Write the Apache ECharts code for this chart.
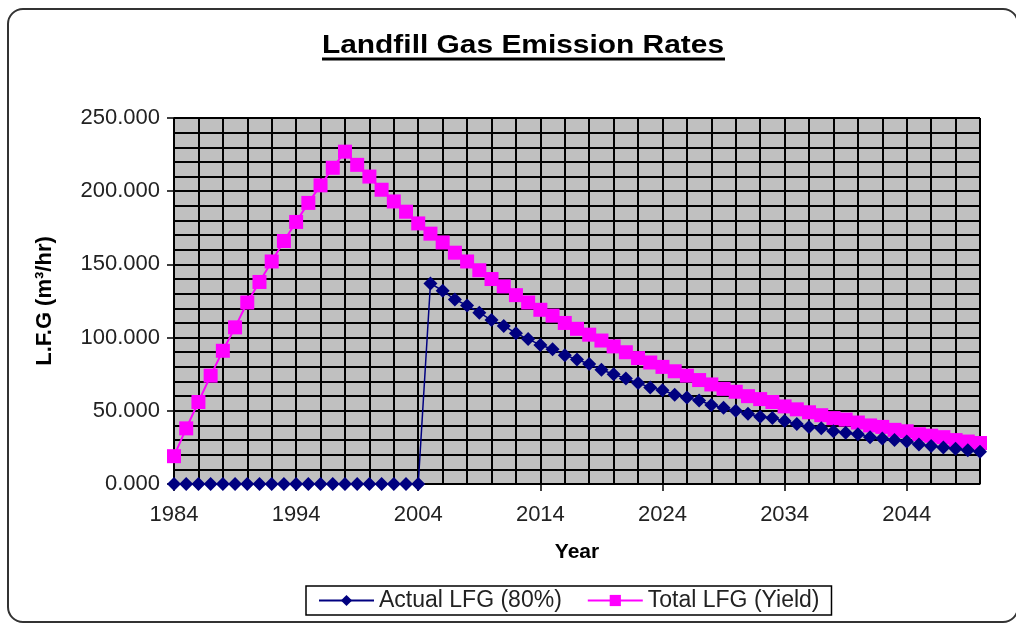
<!DOCTYPE html>
<html>
<head>
<meta charset="utf-8">
<script src="https://cdn.jsdelivr.net/npm/echarts@6/dist/echarts.min.js"></script>
<style>
  html, body { margin: 0; padding: 0; background: #fff; }
  #chart { width: 1016px; height: 624px; }
</style>
</head>
<body>
<div id="chart"></div>
<script>
const years = [
  '1984', '1985', '1986', '1987', '1988', '1989', '1990', '1991', '1992', '1993',
  '1994', '1995', '1996', '1997', '1998', '1999', '2000', '2001', '2002', '2003',
  '2004', '2005', '2006', '2007', '2008', '2009', '2010', '2011', '2012', '2013',
  '2014', '2015', '2016', '2017', '2018', '2019', '2020', '2021', '2022', '2023',
  '2024', '2025', '2026', '2027', '2028', '2029', '2030', '2031', '2032', '2033',
  '2034', '2035', '2036', '2037', '2038', '2039', '2040', '2041', '2042', '2043',
  '2044', '2045', '2046', '2047', '2048', '2049', '2050'
]

// m3/hr
const actualLFG = [
  0, 0, 0, 0, 0, 0, 0, 0, 0, 0,
  0, 0, 0, 0, 0, 0, 0, 0, 0, 0,
  0, 137, 132, 126, 122, 117, 112, 108, 103, 99,
  95, 92, 88, 85, 82, 78, 75, 72, 69, 66,
  64, 61, 59, 57, 54, 52, 50, 48, 46, 45,
  43, 41, 39, 38, 36, 35, 34, 32, 31, 30,
  29, 27, 26, 25, 24, 23, 22
]

const totalLFG = [
  19, 38, 56, 74, 91, 107, 124, 138, 152, 166,
  179, 192, 204, 216, 227, 218, 210, 201, 193, 186,
  178, 171, 165, 158, 152, 146, 140, 135, 129, 124,
  119, 115, 110, 106, 102, 98, 94, 90, 86, 83,
  80, 77, 74, 71, 68, 65, 63, 60, 58, 56,
  53, 51, 49, 47, 45, 44, 42, 40, 39, 37,
  36, 34, 33, 32, 30, 29, 28
]

const seriesNames = ['Actual LFG (80%)', 'Total LFG (Yield)']

const font = '"Liberation Sans", Arial, sans-serif'

const myChart = echarts.init(document.getElementById('chart'))

let option = {
  animation: false,
  textStyle: { fontFamily: font },
  graphic: [
    {
      type: 'rect',
      silent: true,
      z: -10,
      shape: { x: 8, y: 9, width: 1010, height: 613, r: 15 },
      style: { fill: 'none', stroke: '#333', lineWidth: 2 }
    },
    {
      type: 'text',
      x: 523,
      y: 33,
      scaleX: 1.15, // 原图文字被横向拉宽
      style: {
        text: 'Landfill Gas Emission Rates',
        font: 'bold 26px ' + font,
        fill: '#000',
        textAlign: 'center',
        textVerticalAlign: 'top'
      }
    },
    {
      type: 'line',
      shape: { x1: 322, y1: 59, x2: 725, y2: 59 },
      style: { stroke: '#000', lineWidth: 3 }
    }
  ],
  grid: {
    left: 174,
    right: 36,
    top: 118,
    bottom: 140,
    show: true,
    backgroundColor: '#C0C0C0',
    borderColor: '#000',
    borderWidth: 1
  },
  legend: {
    data: seriesNames,
    left: 306,
    top: 586,
    itemWidth: 55,
    itemHeight: 14,
    itemGap: 25,
    padding: [3, 12],
    borderColor: '#000',
    borderWidth: 1.5,
    textStyle: { fontSize: 23, color: '#222', fontFamily: font }
  },
  xAxis: {
    type: 'category',
    data: years,
    boundaryGap: false,
    name: 'Year',
    nameLocation: 'middle',
    nameGap: 58,
    nameTextStyle: { fontSize: 21, fontWeight: 'bold', color: '#000', fontFamily: font },
    axisLine: { lineStyle: { color: '#000', width: 1.5 } },
    axisTick: { interval: 9, length: 7, lineStyle: { color: '#000', width: 1.5 } },
    axisLabel: { interval: 9, margin: 20, fontSize: 22, color: '#222', fontFamily: font },
    splitLine: { show: true, interval: 1, lineStyle: { color: '#000', width: 2 } }
  },
  yAxis: {
    type: 'value',
    min: 0,
    max: 250,
    interval: 50,
    name: 'L.F.G (m³/hr)',
    nameLocation: 'middle',
    nameRotate: 90,
    nameGap: 118,
    nameTextStyle: { fontSize: 22, fontWeight: 'bold', color: '#000', fontFamily: font },
    axisLine: { show: true, lineStyle: { color: '#000', width: 1.5 } },
    axisTick: { show: true, length: 7, lineStyle: { color: '#000', width: 1.5 } },
    axisLabel: {
      margin: 14,
      fontSize: 22,
      color: '#222',
      fontFamily: font,
      formatter: (v) => v.toFixed(3)
    },
    splitLine: { show: true, lineStyle: { color: '#000', width: 2 } },
    minorTick: { show: false, splitNumber: 5 }, // 每10一条横线
    minorSplitLine: { show: true, lineStyle: { color: '#000', width: 2 } }
  },
  series: [
    {
      name: seriesNames[0],
      type: 'line',
      data: actualLFG,
      z: 4,
      symbol: 'diamond',
      symbolSize: 14,
      showAllSymbol: true,
      itemStyle: { color: '#000080' },
      lineStyle: { color: '#000080', width: 1.5 }
    },
    {
      name: seriesNames[1],
      type: 'line',
      data: totalLFG,
      z: 3,
      symbol: 'rect',
      symbolSize: 14,
      showAllSymbol: true,
      itemStyle: { color: '#FF00FF' },
      lineStyle: { color: '#FF00FF', width: 2 }
    }
  ]
}

option && myChart.setOption(option)
</script>
</body>
</html>
